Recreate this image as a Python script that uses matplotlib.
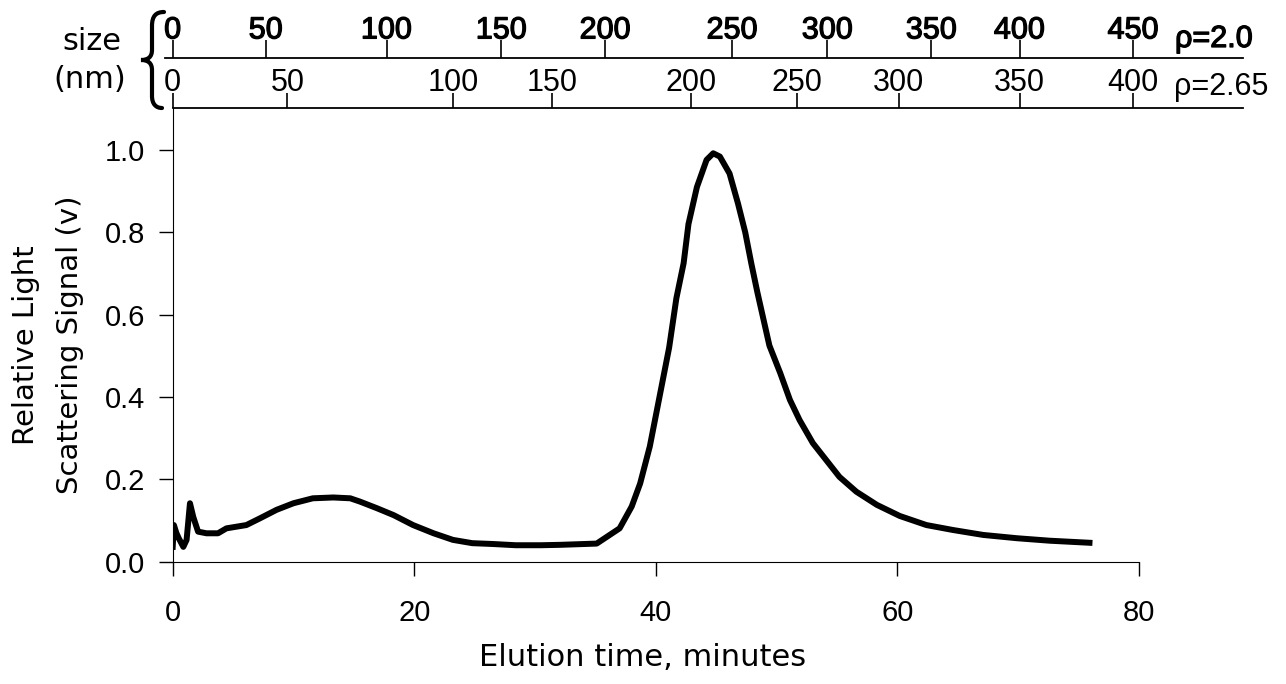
import matplotlib
matplotlib.use("Agg")
import matplotlib.pyplot as plt
import matplotlib.patheffects as pe
from matplotlib.path import Path
from matplotlib.patches import PathPatch

# elution trace (minutes, relative signal)
time_min = [0.0, 0.1, 0.3, 0.5, 0.88, 1.15, 1.43, 1.7, 2.1, 2.8, 3.75, 4.45, 6.1, 7.2,
            8.6, 10.0, 11.6, 13.3, 14.7, 15.5, 16.9, 18.3, 19.9, 21.6, 23.2, 24.8, 26.5,
            28.4, 30.5, 32.1, 35.1, 37.0, 38.0, 38.7, 39.5, 40.3, 41.1, 41.7, 42.3, 42.7,
            43.4, 44.2, 44.75, 45.3, 46.1, 46.8, 47.4, 47.9, 48.4, 48.9, 49.4, 50.3, 51.1,
            51.9, 53.0, 54.1, 55.2, 56.6, 58.3, 60.2, 62.4, 64.6, 67.1, 69.9, 72.6, 75.9]
signal = [0.036, 0.089, 0.07, 0.057, 0.036, 0.053, 0.142, 0.109, 0.073, 0.069, 0.069, 0.081,
          0.089, 0.105, 0.126, 0.142, 0.154, 0.156, 0.154, 0.146, 0.13, 0.113, 0.089, 0.069,
          0.053, 0.045, 0.043, 0.04, 0.04, 0.041, 0.044, 0.081, 0.134, 0.19, 0.28, 0.40,
          0.52, 0.64, 0.725, 0.82, 0.91, 0.976, 0.992, 0.984, 0.943, 0.87, 0.80, 0.725,
          0.655, 0.59, 0.525, 0.458, 0.393, 0.344, 0.288, 0.247, 0.206, 0.170, 0.138,
          0.111, 0.089, 0.077, 0.065, 0.057, 0.051, 0.046]

# size scales (nm) and the elution time they sit at
size_rho20 = [0, 50, 100, 150, 200, 250, 300, 350, 400, 450]
time_rho20 = [0, 7.7, 17.7, 27.2, 35.8, 46.3, 54.2, 62.8, 70.1, 79.5]
size_rho265 = [0, 50, 100, 150, 200, 250, 300, 350, 400]
time_rho265 = [0, 9.5, 23.2, 31.4, 42.9, 51.7, 60.1, 70.1, 79.5]

x_ticks = [0, 20, 40, 60, 80]
y_ticks = [0.0, 0.2, 0.4, 0.6, 0.8, 1.0]

W, H = 1286, 684
fig = plt.figure(figsize=(W / 100, H / 100), dpi=100)

def fx(px):
    return px / W

def fy(py):
    return 1 - py / H

lab_font = "DejaVu Sans"
num_font = "Liberation Sans"

# main plot
ax = fig.add_axes([fx(172.7), fy(561.7), fx(1139) - fx(172.7), fy(108) - fy(561.7)])
ax.plot(time_min, signal, color="black", lw=4.3, solid_joinstyle="round")
ax.set_xlim(0, 80)
ax.set_ylim(0, 1.102)
ax.set_xticks(x_ticks)
ax.set_xticklabels([str(t) for t in x_ticks], fontsize=21, family=num_font)
ax.set_yticks(y_ticks)
ax.set_yticklabels(["%.1f" % v for v in y_ticks], fontsize=21, family=num_font)
ax.spines["top"].set_visible(False)
ax.spines["right"].set_visible(False)
ax.tick_params(axis="x", direction="out", length=10, width=1, pad=17)
ax.tick_params(axis="y", direction="out", length=10, width=1, pad=10)
ax.set_xlabel("Elution time, minutes", fontsize=22, family=lab_font, va="center")
ax.xaxis.set_label_coords((643 - 172.7) / (1139 - 172.7), (561.7 - 657) / (561.7 - 108))
ax.set_ylabel("Relative Light\nScattering Signal (v)", fontsize=21, family=lab_font,
              ha="center", va="center", linespacing=1.75)
ax.yaxis.set_label_coords((48 - 172.7) / (1139 - 172.7), (561.7 - 345) / (561.7 - 108))

# the two size scales on top
t_right = (1243 - 172.7) / 12.08

def size_axis(py, px_left, t_left, ticks, labels, tick_len, bold):
    a = fig.add_axes([fx(px_left), fy(py), fx(1243) - fx(px_left), 0.0001])
    a.set_facecolor("none")
    a.set_xlim(t_left, t_right)
    a.set_yticks([])
    for s in ["left", "right", "bottom"]:
        a.spines[s].set_visible(False)
    a.spines["top"].set_linewidth(1.3)
    a.xaxis.set_ticks_position("top")
    a.set_xticks(ticks)
    a.set_xticklabels([str(v) for v in labels], fontsize=22, family=num_font)
    a.tick_params(axis="x", direction="out", length=tick_len, width=1.2, pad=-4,
                  labeltop=True, labelbottom=False)
    if bold:
        for t in a.get_xticklabels():
            t.set_path_effects([pe.withStroke(linewidth=0.9, foreground="black")])
    return a

size_axis(58, 165, (165 - 172.7) / 12.08, time_rho20, size_rho20, 13, True)
size_axis(108, 172.7, 0, time_rho265, size_rho265, 11, False)

r1 = fig.text(fx(1175), fy(47), "ρ=2.0", fontsize=22, family=num_font, va="baseline")
r1.set_path_effects([pe.withStroke(linewidth=0.9, foreground="black")])
fig.text(fx(1174), fy(95), "ρ=2.65", fontsize=22, family=num_font, va="baseline")

fig.text(fx(92), fy(42), "size", fontsize=22, family=lab_font, ha="center", va="center")
fig.text(fx(90), fy(80), "(nm)", fontsize=22, family=lab_font, ha="center", va="center")

# curly brace grouping the two scales
pts = [(164, 12), (156, 12), (152, 16), (152, 26),
       (152, 50),
       (152, 57), (148, 60), (141, 60),
       (148, 60), (152, 63), (152, 70),
       (152, 96),
       (152, 104), (156, 108), (162, 108)]
codes = [Path.MOVETO, Path.CURVE4, Path.CURVE4, Path.CURVE4,
         Path.LINETO,
         Path.CURVE4, Path.CURVE4, Path.CURVE4,
         Path.CURVE4, Path.CURVE4, Path.CURVE4,
         Path.LINETO,
         Path.CURVE4, Path.CURVE4, Path.CURVE4]
brace = Path([(fx(x), fy(y)) for x, y in pts], codes)
fig.add_artist(PathPatch(brace, transform=fig.transFigure, fill=False, lw=3, color="black",
                         capstyle="round"))

fig.savefig("out.png", dpi=100)
